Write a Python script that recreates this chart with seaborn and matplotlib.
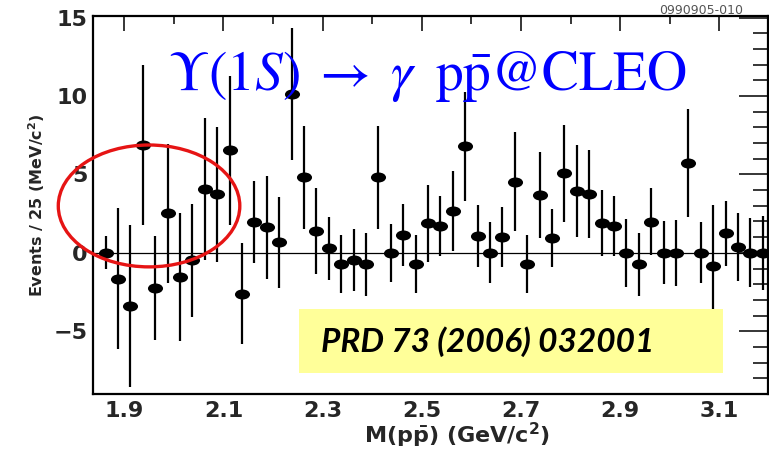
import matplotlib
matplotlib.use("Agg")
import numpy as np
import pandas as pd
import matplotlib.pyplot as plt
import seaborn as sns
from matplotlib.path import Path
from matplotlib.transforms import Affine2D
from matplotlib.patches import Ellipse, Rectangle
from matplotlib.ticker import MultipleLocator

# ---------------- data ----------------
mass = [1.8625, 1.8875, 1.9125, 1.9375, 1.9625, 1.9875, 2.0125, 2.0375, 2.0625, 2.0875,
        2.1125, 2.1375, 2.1625, 2.1875, 2.2125, 2.2375, 2.2625, 2.2875, 2.3125, 2.3375,
        2.3625, 2.3875, 2.4125, 2.4375, 2.4625, 2.4875, 2.5125, 2.5375, 2.5625, 2.5875,
        2.6125, 2.6375, 2.6625, 2.6875, 2.7125, 2.7375, 2.7625, 2.7875, 2.8125, 2.8375,
        2.8625, 2.8875, 2.9125, 2.9375, 2.9625, 2.9875, 3.0125, 3.0375, 3.0625, 3.0875,
        3.1125, 3.1375, 3.1625, 3.1875]
events = [0.0, -1.64, -3.39, 6.89, -2.24, 2.52, -1.54, -0.47, 4.07, 3.73,
          6.55, -2.60, 1.98, 1.62, 0.66, 10.13, 4.82, 1.41, 0.30, -0.72,
          -0.47, -0.72, 4.82, 0.0, 1.13, -0.72, 1.88, 1.71, 2.69, 6.78,
          1.07, 0.0, 1.02, 4.54, -0.72, 3.69, 0.96, 5.07, 3.94, 3.73,
          1.92, 1.71, 0.0, -0.72, 1.98, 0.0, 0.0, 5.74, 0.0, -0.83,
          1.24, 0.38, 0.0, 0.0]
errors = [1.05, 4.5, 5.15, 5.1, 3.3, 4.45, 4.1, 3.6, 4.5, 4.3,
          4.75, 3.2, 2.6, 3.3, 2.9, 4.23, 3.27, 2.75, 2.0, 1.84,
          1.97, 2.0, 3.27, 1.85, 2.0, 1.85, 2.45, 1.9, 2.55, 3.45,
          1.95, 1.95, 1.92, 3.15, 1.85, 2.77, 1.84, 3.1, 2.93, 2.8,
          2.1, 1.9, 2.15, 2.0, 2.13, 2.0, 2.1, 3.45, 1.95, 3.9,
          2.08, 2.15, 2.2, 2.35]

x_ticks = [1.9, 2.1, 2.3, 2.5, 2.7, 2.9, 3.1]
x_tick_labels = ["1.9", "2.1", "2.3", "2.5", "2.7", "2.9", "3.1"]
y_ticks = [-5, 0, 5, 10, 15]
y_tick_labels = ["\u22125", "0", "5", "10", "15"]

title_text = r"$\Upsilon(1S)\;\rightarrow\;\gamma\;\;\mathrm{p\bar{p}}$@CLEO"
ref_text = "PRD 73 (2006) 032001"
fig_id = "0990905-010"
x_label = r"M(p$\mathbf{\bar{p}}$) (GeV/c$^{\mathbf{2}}$)"
y_label = r"Events / 25 (MeV/c$^{\mathbf{2}}$)"

df = pd.DataFrame({"mass": mass, "events": events, "err": errors})

# ---------------- style ----------------
sns.set_style("white")
plt.rcParams["font.family"] = ["DejaVu Sans"]
plt.rcParams["mathtext.fontset"] = "dejavusans"

fig = plt.figure(figsize=(7.69, 4.5), dpi=100)
W, H = 769, 450
ax = fig.add_axes([93 / W, 1 - 394 / H, 675 / W, 378 / H])

# zero line
ax.axhline(0, color="black", lw=0.9, zorder=1)

# error bars
ax.errorbar(df["mass"], df["events"], yerr=df["err"], fmt="none",
            ecolor="black", elinewidth=1.6, capsize=0, zorder=2)

# elliptical markers (wider than tall, like the reference)
ell = Path.unit_circle().transformed(Affine2D().scale(1.5, 1.0))
sns.scatterplot(data=df, x="mass", y="events", marker=ell, s=118,
                color="black", edgecolor="black", linewidth=0,
                zorder=3, ax=ax, legend=False)

ax.set_xlim(1.837, 3.198)
ax.set_ylim(-9, 15.1)

ax.set_xticks(x_ticks, labels=x_tick_labels)
ax.set_yticks(y_ticks, labels=y_tick_labels)
ax.xaxis.set_minor_locator(MultipleLocator(0.1))
ax.yaxis.set_minor_locator(MultipleLocator(1))

ax.tick_params(axis="both", which="both", direction="in", top=True, right=True,
               color="black", width=1.1)
ax.tick_params(axis="y", which="major", length=21, labelsize=16, pad=4)
ax.tick_params(axis="y", which="minor", length=10.5)
ax.tick_params(axis="x", which="major", length=11, labelsize=16, pad=5)
ax.tick_params(axis="x", which="minor", length=5.5)
for lab in ax.get_xticklabels() + ax.get_yticklabels():
    lab.set_fontweight("bold")

for sp in ax.spines.values():
    sp.set_linewidth(1.6)
    sp.set_color("black")

ax.set_xlabel(x_label, fontsize=16, fontweight="bold")
ax.set_ylabel(y_label, fontsize=11.5, fontweight="bold")
ax.xaxis.set_label_coords((457 - 93) / 675, -0.07)
ax.yaxis.set_label_coords(-0.068, 0.5)

# red ellipse highlighting the threshold region
ax.add_patch(Ellipse((1.950, 2.99), width=0.366, height=7.77, fill=False,
                     edgecolor="#E61414", lw=2.4, clip_on=False, zorder=5))

# yellow reference box
ax.add_patch(Rectangle((0.305, 0.0556), 0.628, 0.169, transform=ax.transAxes,
                       facecolor="#FFFF99", edgecolor="none", zorder=6))
ax.text((488 - 93) / 675, (394 - 342) / 378, ref_text, transform=ax.transAxes,
        ha="center", va="center", fontsize=24, fontweight="bold", fontstyle="italic",
        family=["Lato", "Open Sans", "DejaVu Sans"], color="black", zorder=7)

# blue title inside the plot
fig.text(427 / W, 1 - 90 / H, title_text, ha="center", va="baseline",
         fontsize=40, color="#0000FF", family=["STIXGeneral", "Liberation Serif"],
         math_fontfamily="stix")

# figure id at top right
fig.text(701 / W, 1 - 10 / H, fig_id, ha="center", va="center", fontsize=9,
         color="#555555")

fig.savefig("out.png", dpi=100)
